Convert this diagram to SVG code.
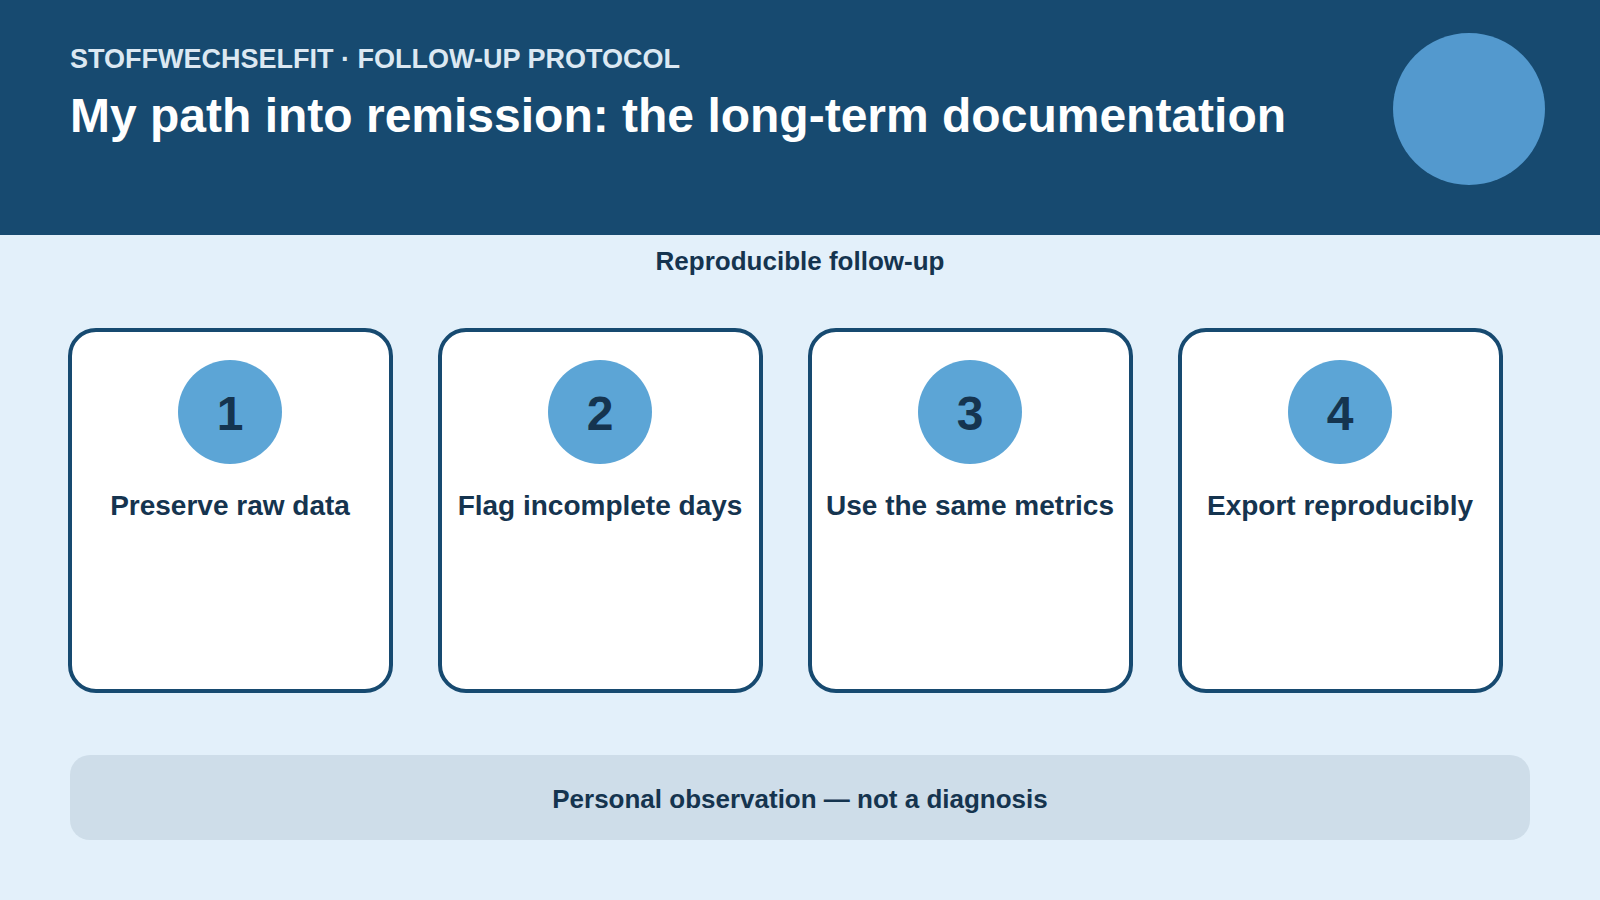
<svg xmlns="http://www.w3.org/2000/svg" width="1600" height="900" viewBox="0 0 1600 900">
<style>
text{font-family:"Liberation Sans",Arial,sans-serif;font-weight:bold;fill:#15344F}
.card{fill:#fff;stroke:#174A70;stroke-width:4}
.badge{fill:#5CA5D6}
.num{font-size:48px;text-anchor:middle}
.lbl{font-size:28px;text-anchor:middle}
</style>
<rect width="1600" height="900" fill="#E3F0FA"/>
<g id="header">
<rect width="1600" height="235" fill="#174A70"/>
<text x="70" y="68" font-size="27" style="fill:#DCE8F2">STOFFWECHSELFIT · FOLLOW-UP PROTOCOL</text>
<text x="70" y="132" font-size="48" style="fill:#fff">My path into remission: the long-term documentation</text>
<circle cx="1469" cy="109" r="76" fill="#5399CE"/>
</g>
<text x="800" y="270" font-size="26" text-anchor="middle">Reproducible follow-up</text>
<g id="step1"><rect class="card" x="70" y="330" width="321" height="361" rx="26"/><circle class="badge" cx="230" cy="412" r="52"/><text class="num" x="230" y="430">1</text><text class="lbl" x="230" y="515">Preserve raw data</text></g>
<g id="step2"><rect class="card" x="440" y="330" width="321" height="361" rx="26"/><circle class="badge" cx="600" cy="412" r="52"/><text class="num" x="600" y="430">2</text><text class="lbl" x="600" y="515">Flag incomplete days</text></g>
<g id="step3"><rect class="card" x="810" y="330" width="321" height="361" rx="26"/><circle class="badge" cx="970" cy="412" r="52"/><text class="num" x="970" y="430">3</text><text class="lbl" x="970" y="515">Use the same metrics</text></g>
<g id="step4"><rect class="card" x="1180" y="330" width="321" height="361" rx="26"/><circle class="badge" cx="1340" cy="412" r="52"/><text class="num" x="1340" y="430">4</text><text class="lbl" x="1340" y="515">Export reproducibly</text></g>
<g id="connectors"></g>
<g id="footer"><rect x="70" y="755" width="1460" height="85" rx="20" fill="#CEDDE9"/><text x="800" y="808" font-size="26" text-anchor="middle">Personal observation — not a diagnosis</text></g>
</svg>
